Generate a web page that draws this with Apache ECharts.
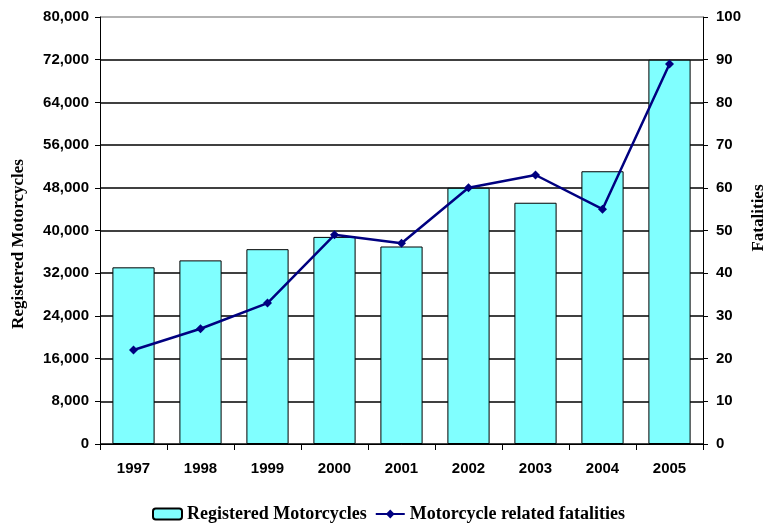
<!DOCTYPE html>
<html><head><meta charset="utf-8">
<script src="https://cdn.jsdelivr.net/npm/echarts@6/dist/echarts.min.js"></script>
<style>html,body{margin:0;padding:0;background:#fff}#c{width:767px;height:525px}</style>
</head><body><div id="c"></div>
<script>
const years = ['1997','1998','1999','2000','2001','2002','2003','2004','2005'];
const registered = [33100, 34400, 36500, 38800, 37000, 48000, 45200, 51100, 72000];
const fatalities = [22, 27, 33, 49, 47, 60, 63, 55, 89];
const leftTicks = {min: 0, max: 80000, interval: 8000};
const rightTicks = {min: 0, max: 100, interval: 10};

const chart = echarts.init(document.getElementById('c'), null, {renderer: 'canvas'});
const gridColors = ['#000','#000','#000','#000','#000','#000','#000','#000','#000','#000','#999'];
const titleFont = {fontFamily: 'Liberation Serif', fontWeight: 'bold', fontSize: 17, fill: '#000'};
chart.setOption({
  animation: false,
  grid: {left: 100, right: 64, top: 17, bottom: 81},
  legend: {
    top: 500, left: 147, itemGap: 8, itemWidth: 29, itemHeight: 11,
    textStyle: {fontFamily: 'Liberation Serif', fontWeight: 'bold', fontSize: 18, color: '#000'},
    data: ['Registered Motorcycles', 'Motorcycle related fatalities']
  },
  graphic: [
    {type: 'text', x: 19, y: 244, rotation: Math.PI / 2,
     style: Object.assign({text: 'Registered Motorcycles', align: 'center', verticalAlign: 'middle'}, titleFont)},
    {type: 'text', x: 759, y: 218, rotation: Math.PI / 2,
     style: Object.assign({text: 'Fatalities', align: 'center', verticalAlign: 'middle'}, titleFont)}
  ],
  xAxis: {
    type: 'category', data: years,
    axisLine: {lineStyle: {color: '#000', width: 1}},
    axisTick: {show: true, alignWithLabel: false, length: 6, lineStyle: {color: '#000'}},
    axisLabel: {fontFamily: 'Liberation Sans', fontWeight: 'bold', fontSize: 15, color: '#000', margin: 17}
  },
  yAxis: [{
    type: 'value', min: leftTicks.min, max: leftTicks.max, interval: leftTicks.interval,
    axisLine: {show: true, lineStyle: {color: '#000'}},
    axisTick: {show: true, length: 5, lineStyle: {color: '#000'}},
    axisLabel: {fontFamily: 'Liberation Sans', fontWeight: 'bold', fontSize: 15, color: '#000', margin: 11,
      formatter: v => v.toLocaleString('en-US')},
    splitLine: {show: true, lineStyle: {color: gridColors, width: 1.5}}
  }, {
    type: 'value', min: rightTicks.min, max: rightTicks.max, interval: rightTicks.interval,
    axisLine: {show: true, lineStyle: {color: '#000'}},
    axisTick: {show: true, length: 5, lineStyle: {color: '#000'}},
    axisLabel: {fontFamily: 'Liberation Sans', fontWeight: 'bold', fontSize: 15, color: '#000', margin: 13},
    splitLine: {show: false}
  }],
  series: [{
    name: 'Registered Motorcycles', type: 'bar', yAxisIndex: 0, data: registered,
    barCategoryGap: '37%',
    itemStyle: {color: '#80FFFF', borderColor: '#000', borderWidth: 1}
  }, {
    name: 'Motorcycle related fatalities', type: 'line', yAxisIndex: 1, data: fatalities,
    symbol: 'diamond', symbolSize: 9,
    lineStyle: {color: '#000080', width: 2.5},
    itemStyle: {color: '#000080'}
  }]
});
</script></body></html>
